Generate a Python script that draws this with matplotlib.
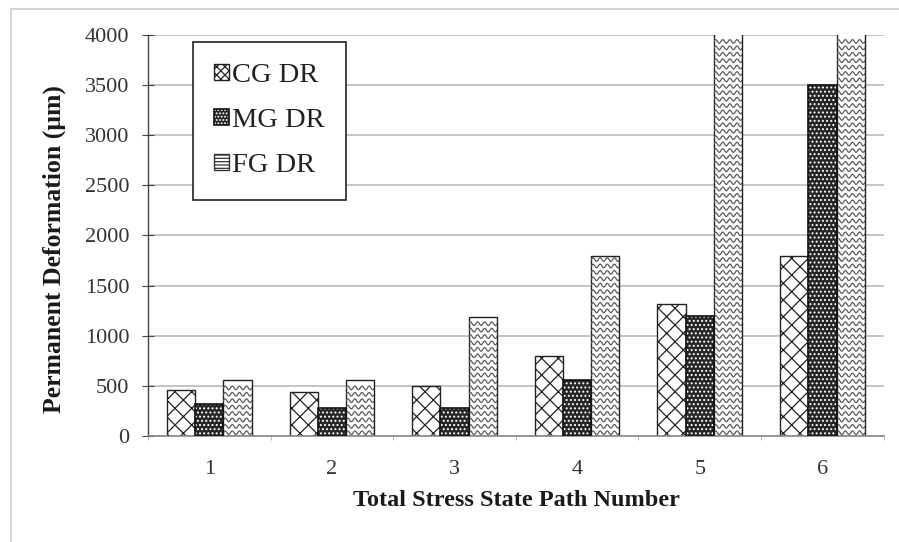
import numpy as np
import matplotlib
matplotlib.use("Agg")
import matplotlib.pyplot as plt
from matplotlib.patches import Rectangle, Patch
from matplotlib.legend_handler import HandlerTuple

categories = ["1", "2", "3", "4", "5", "6"]
cg_dr = [460, 440, 500, 800, 1320, 1800]
mg_dr = [320, 280, 280, 560, 1200, 3500]
fg_dr = [560, 560, 1190, 1800, 4500, 4500]
y_ticks = [0, 500, 1000, 1500, 2000, 2500, 3000, 3500, 4000]

plt.rcParams['font.family'] = ['Liberation Serif', 'DejaVu Serif']
plt.rcParams['hatch.linewidth'] = 0.9

fig = plt.figure(figsize=(8.99, 5.42), dpi=100)
ax = fig.add_axes([0.1646, 0.1956, 0.8184, 0.7398])

# figure frame
fig.patches.append(Rectangle((11/899, -0.01), 1.0, 1 - 9/542 + 0.01, transform=fig.transFigure,
                             fill=False, edgecolor='#d4d4d4', linewidth=1.5))

x = np.arange(len(categories))
w = 0.23
ymax = 4000

cg = ax.bar(x - w, cg_dr, w, facecolor='white', edgecolor='#222222', hatch='xx', linewidth=1.0, zorder=2)
mg_base = ax.bar(x, mg_dr, w, facecolor='#262626', edgecolor='white', hatch='....', linewidth=0, zorder=2)
mg = ax.bar(x, mg_dr, w, facecolor='none', edgecolor='#111111', linewidth=1.2, zorder=3)
fg = ax.bar(x + w, fg_dr, w, facecolor='white', edgecolor='#222222', linewidth=1.0, zorder=2)

# wavy texture for FG bars, clipped to each bar and to the axes range
period = 0.058
amp = 18
step = 64
for bar in fg:
    x0 = bar.get_x()
    x1 = x0 + bar.get_width()
    top = min(bar.get_height(), ymax)
    xs = np.linspace(x0, x1, 80)
    for y0 in np.arange(step / 2, top - amp, step):
        ys = y0 + amp * np.sin(2 * np.pi * (xs - x0) / period)
        ln, = ax.plot(xs, ys, color='#5a5a5a', lw=0.9, zorder=2.5)
        ln.set_clip_path(bar)

ax.set_xlim(-0.5, 5.5)
ax.set_ylim(0, ymax)
ax.set_yticks(y_ticks)
ax.set_xticks(x)
ax.set_xticklabels(categories)
ax.set_xticks(np.arange(-0.5, 6.0, 1.0), minor=True)

ax.yaxis.grid(True, color='#c4c4c4', linewidth=1.4)
ax.set_axisbelow(True)

for s in ['top', 'right']:
    ax.spines[s].set_visible(False)
ax.spines['left'].set_color('#444444')
ax.spines['bottom'].set_color('#888888')
ax.spines['left'].set_linewidth(1.0)
ax.spines['bottom'].set_linewidth(1.2)

ax.tick_params(axis='y', direction='inout', length=9, color='#444444', labelsize=16, labelcolor='#333333', pad=9)
ax.tick_params(axis='x', which='major', length=0, labelsize=16, labelcolor='#333333', pad=17)
ax.tick_params(axis='x', which='minor', direction='out', length=3, color='#aaaaaa')

ax.set_xlabel('Total Stress State Path Number', fontsize=17.5, fontweight='bold', color='#1a1a1a')
ax.set_ylabel('Permanent Deformation (μm)', fontsize=18.5, fontweight='bold', color='#1a1a1a')
ax.xaxis.set_label_coords(0.5007, -0.135)
ax.yaxis.set_label_coords(-0.112, 0.465)

h_cg = Patch(facecolor='white', edgecolor='#222222', hatch='xxxx', linewidth=1.0)
h_mg = (Patch(facecolor='#262626', edgecolor='white', hatch='.....', linewidth=0),
        Patch(facecolor='none', edgecolor='#111111', linewidth=1.2))
h_fg = Patch(facecolor='white', edgecolor='#333333', hatch='-----', linewidth=1.0)
leg = ax.legend([h_cg, h_mg, h_fg], ['CG DR', 'MG DR', 'FG DR'],
                handler_map={tuple: HandlerTuple(ndivide=1)},
                loc='upper left', bbox_to_anchor=(0.0611, 0.9825), fontsize=20.5,
                frameon=True, fancybox=False, edgecolor='#222222', framealpha=1,
                handlelength=0.5, handleheight=0.5, handletextpad=0.12,
                labelspacing=0.7, borderpad=0.75, borderaxespad=0)
leg.get_frame().set_linewidth(1.2)
for t in leg.get_texts():
    t.set_color('#222222')

fig.savefig('out.png', dpi=100)
